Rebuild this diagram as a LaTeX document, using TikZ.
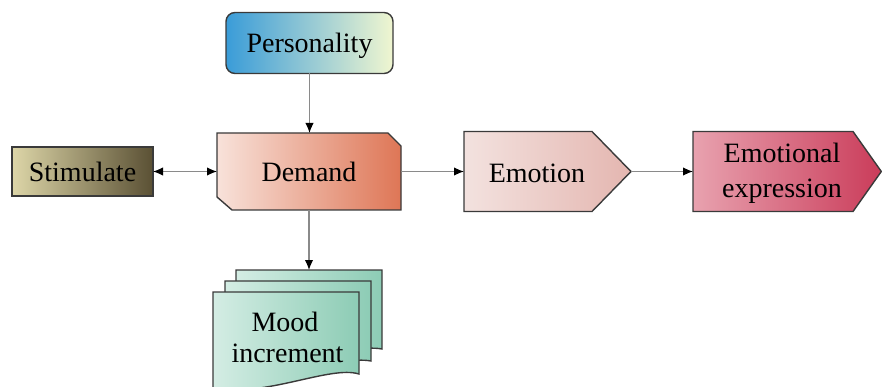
\documentclass[tikz,border=0pt]{standalone}
\usepackage{fontspec}
\setmainfont{Liberation Serif}
\newfontfamily\diagfont{Liberation Serif}
\usetikzlibrary{arrows.meta,calc}
\definecolor{edge}{HTML}{3A3A3A}
\definecolor{linegray}{HTML}{8A8A8A}
\definecolor{persL}{HTML}{3A9CD8}
\definecolor{persR}{HTML}{F0F6D0}
\definecolor{stimL}{HTML}{DDD6A8}
\definecolor{stimR}{HTML}{5A5034}
\definecolor{demL}{HTML}{F8E2DA}
\definecolor{demR}{HTML}{DE7656}
\definecolor{emoL}{HTML}{F3E2DF}
\definecolor{emoR}{HTML}{E4B6B0}
\definecolor{eeL}{HTML}{E8A2AF}
\definecolor{eeR}{HTML}{CA3C5A}
\definecolor{moodL}{HTML}{D4EDE4}
\definecolor{moodR}{HTML}{8DCCB5}
\begin{document}
\begin{tikzpicture}[x=1pt,y=-1pt,
  lbl/.style={font=\diagfont\fontsize{28}{32}\selectfont, align=center, inner sep=0pt},
  frame/.style={inner sep=0pt, outer sep=0pt},
  outl/.style={draw=edge, line width=1.4pt},
  conn/.style={draw=linegray, line width=1.3pt, -{Latex[length=10pt,width=8.5pt,black]}},
  dconn/.style={draw=linegray, line width=1.3pt, {Latex[length=10pt,width=8.5pt,black]}-{Latex[length=10pt,width=8.5pt,black]}},
]
\useasboundingbox (0,0) rectangle (882,387);

% Personality
\node[frame, outl, rounded corners=9pt, left color=persL, right color=persR,
      minimum width=167pt, minimum height=61pt] (pers) at (309.5,43) {};
\node[lbl, anchor=base] (persT) at (309.5,53) {Personality};

% Stimulate
\node[frame, outl, left color=stimL, right color=stimR,
      minimum width=141pt, minimum height=49pt] (stim) at (82.5,171.5) {};
\node[lbl, anchor=base] (stimT) at (82.5,182) {Stimulate};

% Demand
\node[frame, minimum width=184pt, minimum height=77pt] (dem) at (309,171.5) {};
\draw[outl, left color=demL, right color=demR]
  (217,133) -- (388,133) -- (401,146) -- (401,210) -- (232,210) -- (217,197) -- cycle;
\node[lbl, anchor=base] (demT) at (309,182) {Demand};

% Emotion
\node[frame, minimum width=167pt, minimum height=80pt] (emo) at (547.5,171.5) {};
\draw[outl, left color=emoL, right color=emoR]
  (464,131.5) -- (592,131.5) -- (631,171.5) -- (592,211.5) -- (464,211.5) -- cycle;
\node[lbl, anchor=base] (emoT) at (537,183) {Emotion};

% Emotional expression
\node[frame, minimum width=189pt, minimum height=80pt] (ee) at (787.5,171.5) {};
\draw[outl, left color=eeL, right color=eeR]
  (693,131.5) -- (853,131.5) -- (881.3,171.5) -- (853,211.5) -- (693,211.5) -- cycle;
\node[lbl, anchor=base] (eeT1) at (782,163) {Emotional};
\node[lbl, anchor=base] (eeT2) at (782,197) {expression};

% Mood increment (stacked documents)
\node[frame, minimum width=169pt, minimum height=116pt] (mood) at (297.5,328) {};
\coordinate (moodtop) at (309,270);
\draw[outl, left color=moodL, right color=moodR]
  (236,270) -- (382,270) -- (382,349) .. controls (350,343) and (280,372) .. (236,366) -- cycle;
\draw[outl, left color=moodL, right color=moodR]
  (225,281) -- (371,281) -- (371,361) .. controls (340,355) and (270,384) .. (225,378) -- cycle;
\draw[outl, left color=moodL, right color=moodR]
  (213,292) -- (359,292) -- (359,374) .. controls (330,365) and (265,398) .. (213,388) -- cycle;
\node[lbl, anchor=base] (moodT1) at (285,331) {Mood};
\node[lbl, anchor=base] (moodT2) at (287.5,362) {increment};

% Connectors
\draw[conn] (pers.south) -- (pers.south |- dem.north);
\draw[dconn] (stim.east) -- (dem.west);
\draw[conn] (dem.east) -- (emo.west);
\draw[conn] (emo.east) -- (ee.west);
\draw[conn] (dem.south) -- (moodtop);
\end{tikzpicture}
\end{document}
